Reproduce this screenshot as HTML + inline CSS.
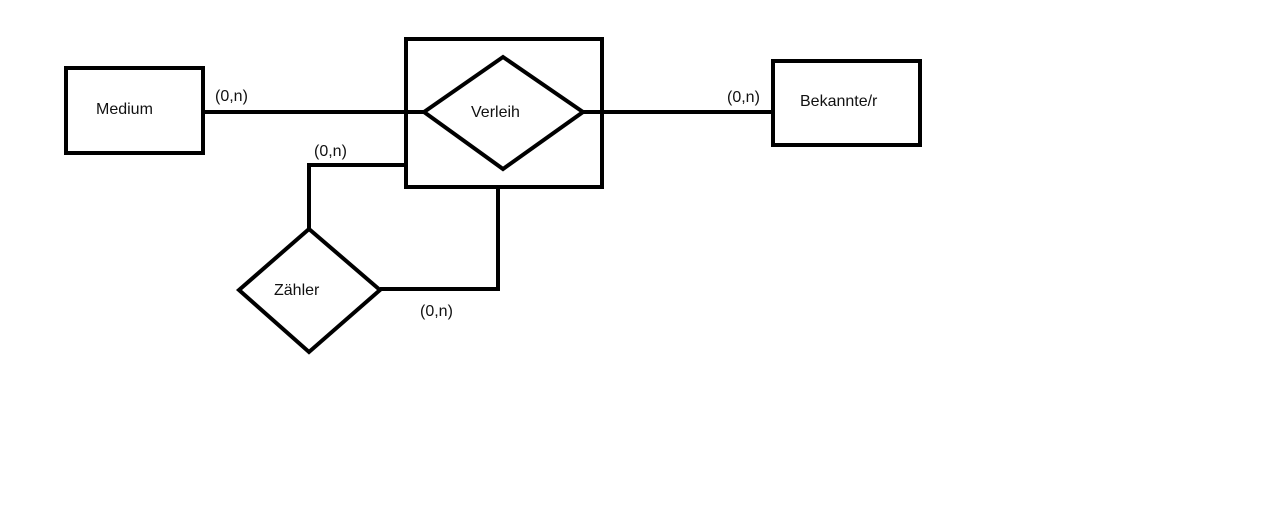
<!DOCTYPE html>
<html><head><meta charset="utf-8"><style>
html,body{margin:0;padding:0;background:#fff;}
svg{display:block;}
text{font-family:"Liberation Sans",sans-serif;font-size:16px;fill:#111;}
</style></head><body>
<svg width="1283" height="531" viewBox="0 0 1283 531" xmlns="http://www.w3.org/2000/svg">
<g fill="none" stroke="#000" stroke-width="4">
<rect x="66" y="68" width="137" height="85"/>
<rect x="406" y="39" width="196" height="148"/>
<polygon points="424,112 503,57 583,112 503,169"/>
<rect x="773" y="61" width="147" height="84"/>
<polygon points="309,229 380,290 309,352 239,290"/>
<line x1="203" y1="112" x2="424" y2="112"/>
<line x1="583" y1="112" x2="773" y2="112"/>
<polyline points="309,229 309,165 406,165"/>
<polyline points="498,187 498,289 380,289"/>
</g>
<text x="96" y="114">Medium</text>
<text x="471" y="117">Verleih</text>
<text x="800" y="106">Bekannte/r</text>
<text x="274" y="295">Zähler</text>
<text x="215" y="101">(0,n)</text>
<text x="314" y="156">(0,n)</text>
<text x="727" y="102">(0,n)</text>
<text x="420" y="316">(0,n)</text>
</svg>
</body></html>
